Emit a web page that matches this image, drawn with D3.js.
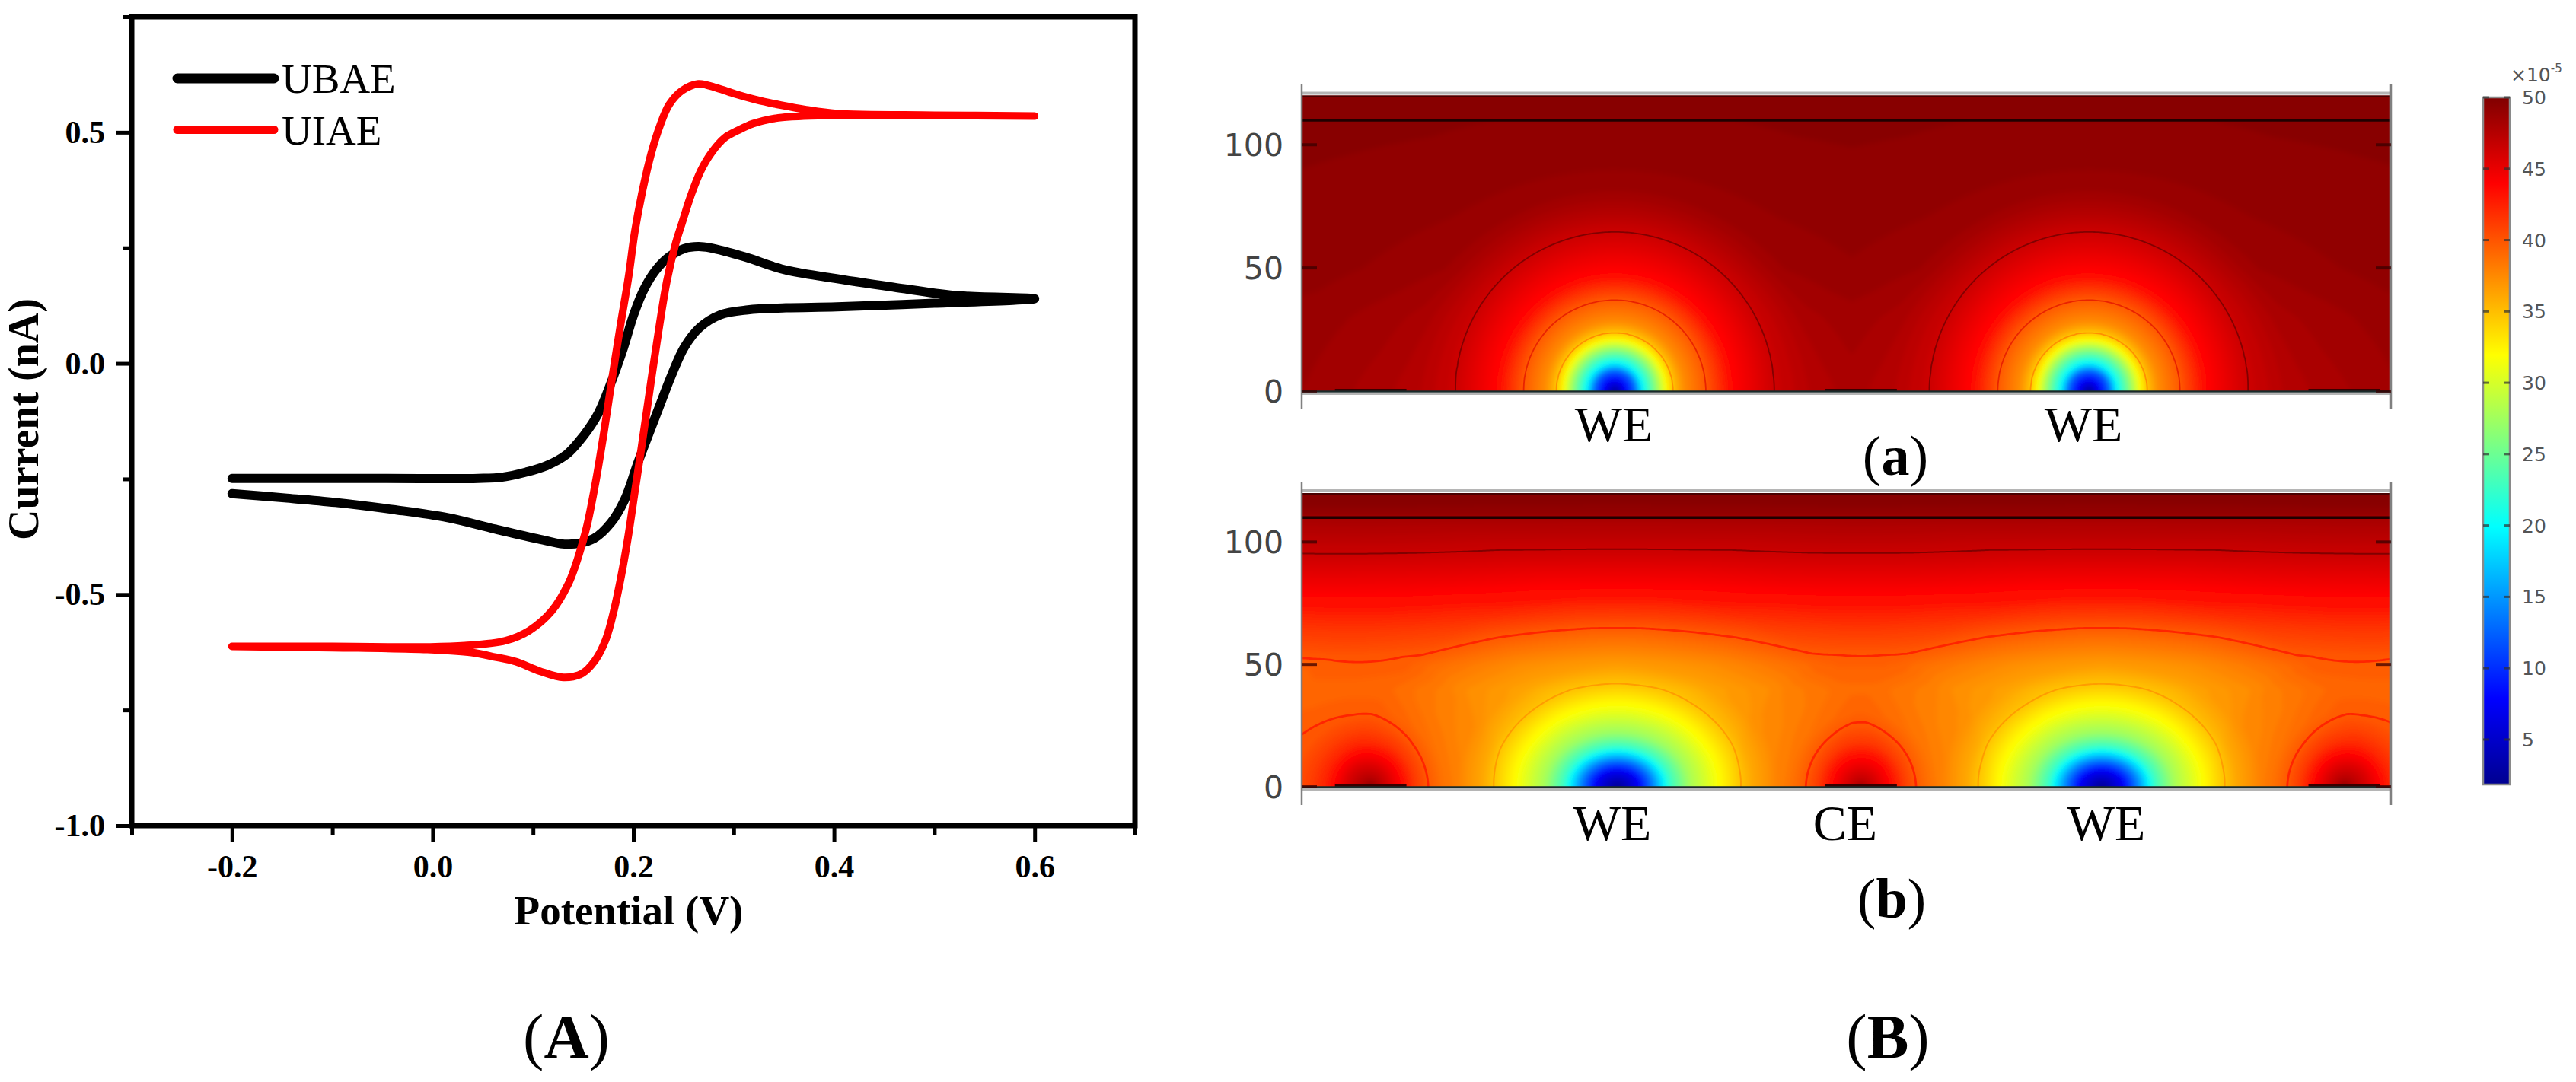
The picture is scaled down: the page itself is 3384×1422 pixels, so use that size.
<!DOCTYPE html>
<html><head><meta charset="utf-8">
<script src="https://cdn.jsdelivr.net/npm/d3@7/dist/d3.min.js"></script>
<style>html,body{margin:0;padding:0;background:#fff}svg{display:block}</style>
</head><body><svg id="c" width="3384" height="1422"></svg>
<script>
// ---------- Panel A data: cyclic voltammograms ----------
const xMajor=[-0.2,0,0.2,0.4,0.6];
const xMinor=[-0.3,-0.1,0.1,0.3,0.5,0.7];
const yMajor=[-1,-0.5,0,0.5];
const yMinor=[-0.75,-0.25,0.25,0.75];
const seriesNames=["UBAE","UIAE"];
const ubaeV=[-0.2,-0.1476,-0.0968,-0.0392,0.015,0.0625,0.1099,0.1353,0.1608,0.1777,0.1912,0.2048,0.2183,0.2256,0.2382,0.2508,0.266,0.2863,0.3141,0.352,0.4027,0.5,0.6,0.52,0.459,0.397,0.35,0.3116,0.2762,0.2648,0.2508,0.2357,0.223,0.2104,0.2002,0.1901,0.1775,0.1648,0.1497,0.1336,0.1133,0.093,0.0692,0.0455,-0.05,-0.2];
const ubaeI=[-0.2818,-0.2911,-0.301,-0.3163,-0.3339,-0.3586,-0.3821,-0.3914,-0.3788,-0.3449,-0.2956,-0.2133,-0.1365,-0.095,-0.025,0.035,0.0773,0.1047,0.1157,0.1201,0.1223,0.13,0.14,0.147,0.165,0.185,0.203,0.23,0.25,0.2527,0.2484,0.2308,0.2034,0.1595,0.1047,0.0334,-0.0433,-0.1091,-0.1584,-0.1968,-0.2215,-0.2352,-0.2462,-0.2489,-0.2489,-0.2489];
const uiaeV=[-0.2,-0.1,-0.0053,0.0387,0.0625,0.0828,0.1065,0.1302,0.1489,0.1624,0.1726,0.181,0.1879,0.1946,0.2014,0.2082,0.2177,0.223,0.2332,0.242,0.2483,0.2572,0.2673,0.2787,0.2913,0.304,0.3192,0.3445,0.3698,0.4027,0.5,0.6,0.5,0.4027,0.3723,0.347,0.3217,0.3015,0.2837,0.2648,0.2483,0.2357,0.2268,0.218,0.2091,0.2015,0.1952,0.1876,0.179,0.1708,0.1624,0.1539,0.1455,0.1353,0.1183,0.0963,0.0726,0.032,-0.0053,-0.1,-0.2];
const uiaeI=[-0.6124,-0.615,-0.6189,-0.6255,-0.6354,-0.6453,-0.6656,-0.6793,-0.671,-0.6409,-0.597,-0.5313,-0.46,-0.3778,-0.2791,-0.1804,-0.0378,0.039,0.176,0.2582,0.3021,0.3624,0.4172,0.4583,0.4885,0.5038,0.5187,0.5313,0.535,0.5367,0.537,0.535,0.537,0.5406,0.5488,0.5587,0.5707,0.5828,0.5954,0.6047,0.5899,0.5598,0.5159,0.4556,0.3734,0.2856,0.187,0.0883,-0.03,-0.1475,-0.2571,-0.3503,-0.4161,-0.4765,-0.5367,-0.578,-0.6,-0.6107,-0.6135,-0.6124,-0.6124];

// ---------- Panel B data: concentration fields ----------
const colorTicks=[50,45,40,35,30,25,20,15,10,5];
const colorMin=1.85, colorMax=50;
const jetPos=[0,0.125,0.375,0.625,0.875,1];
const jetColors=["#000090","#0000ff","#00ffff","#ffff00","#ff0000","#800000"];
const yTicksField=[0,50,100];
const weA=[127,319.4];
const weB=[128,324.6];
const ceCentres=[28,227,423];
const ceHalfWidth=14.5;
// panel (a): value against distance from a working electrode
const aDist=[0,4.1,8.3,11.2,16,20.7,23.6,27.8,37,47.8,64.6,80,96,127,200];
const aConc=[2.2,7.6,13,19.8,25.8,32,35,37.5,40,44,46.6,47.7,48.2,48.8,49.3];
const aPullH=[0,30,50,70,90,110,110.5,120];
const aPull=[0,0.2,0.45,0.55,0.6,0.7,0.9,1];
const aLevels=[35,40,46.6];
// panel (b): value against height, and change against distance from each electrode
const bHeight=[0,20,40,50,54.7,60,63.7,79,96,110,110.5,120];
const bBase=[38.7,38.5,38.2,38.9,39.6,40.4,41,44,46.7,48.4,49.3,50];
const bWeDist=[0,6.3,11,16,22,32,41,49,63.7,80,100,130];
const bWeDelta=[-36.8,-31.6,-24.5,-16.3,-11.2,-6.8,-3.6,-2.1,-1.3,-0.3,-0.1,0];
const bCeDist=[0,2.5,11,18,24,30,40,50,54.7,80,110];
const bCeDelta=[12,10,7,4.2,2.8,1.9,1.4,1.2,0.9,0.3,0];
const bLevels=[35,40,46.7];

// ---------- Drawing ----------
const svg=d3.select("#c");
const serif="'Liberation Serif','Times New Roman',serif";
const sans="'DejaVu Sans',sans-serif";

// Panel A
const x=d3.scaleLinear().domain([-0.3,0.7]).range([173,1491]);
const y=d3.scaleLinear().domain([-1,0.75]).range([1085,22]);
const gA=svg.append("g");
const fmt=d=>d3.format(".1f")(d).replace("−","-");
function styleAxis(g,fs){
  g.selectAll("path").remove();
  g.selectAll("line").attr("stroke","#000").attr("stroke-width",5);
  g.selectAll("text").attr("font-family",serif).attr("font-weight","bold").attr("font-size",fs).attr("fill","#000");
}
gA.append("g").attr("transform","translate(0,1085)")
  .call(d3.axisBottom(x).tickValues(xMinor).tickSize(12).tickFormat("")).call(styleAxis,42);
gA.append("g").attr("transform","translate(0,1085)")
  .call(d3.axisBottom(x).tickValues(xMajor).tickSize(21).tickPadding(17).tickFormat(fmt)).call(styleAxis,42);
gA.append("g").attr("transform","translate(173,0)")
  .call(d3.axisLeft(y).tickValues(yMinor).tickSize(12).tickFormat("")).call(styleAxis,42);
gA.append("g").attr("transform","translate(173,0)")
  .call(d3.axisLeft(y).tickValues(yMajor).tickSize(21).tickPadding(14).tickFormat(fmt)).call(styleAxis,42);
gA.append("rect").attr("x",x(-0.3)).attr("y",y(0.75)).attr("width",x(0.7)-x(-0.3)).attr("height",y(-1)-y(0.75))
  .attr("fill","none").attr("stroke","#000").attr("stroke-width",7);
const line=d3.line().x(d=>x(d[0])).y(d=>y(d[1])).curve(d3.curveCatmullRom.alpha(0.5));
const styles=[{c:"#000",w:12},{c:"#ff0000",w:10}];
[[ubaeV,ubaeI],[uiaeV,uiaeI]].forEach((s,i)=>{
  gA.append("path").attr("d",line(d3.zip(s[0],s[1]))).attr("fill","none")
    .attr("stroke",styles[i].c).attr("stroke-width",styles[i].w)
    .attr("stroke-linecap","round").attr("stroke-linejoin","round");
});
seriesNames.forEach((n,i)=>{
  const ly=[103,170.5][i];
  gA.append("line").attr("x1",233).attr("x2",360).attr("y1",ly).attr("y2",ly)
    .attr("stroke",styles[i].c).attr("stroke-width",styles[i].w+1).attr("stroke-linecap","round");
  gA.append("text").attr("x",370).attr("y",[122,190][i]).attr("font-family",serif).attr("font-size",55).text(n);
});
gA.append("text").attr("x",826).attr("y",1215).attr("text-anchor","middle").attr("font-family",serif)
  .attr("font-weight","bold").attr("font-size",55).text("Potential (V)");
gA.append("text").attr("transform","translate(50,551) rotate(-90)").attr("text-anchor","middle").attr("font-family",serif)
  .attr("font-weight","bold").attr("font-size",56).text("Current (nA)");

function caption(cx,cy,label,size){
  const t=svg.append("text").attr("x",cx).attr("y",cy).attr("text-anchor","middle").attr("font-family",serif).attr("font-size",size);
  t.append("tspan").text("(");
  t.append("tspan").attr("font-weight","bold").text(label);
  t.append("tspan").text(")");
}
caption(744,1390,"A",82);
caption(2480,1390,"B",82);

// Colour scale
const cPos=p=>colorMin+p*(colorMax-colorMin);
const color=d3.scaleLinear().domain(jetPos.map(cPos)).range(jetColors).clamp(true);

// Fields
const aProfile=d3.scaleLinear().domain(aDist).range(aConc).clamp(true);
const aPullAt=d3.scaleLinear().domain(aPullH).range(aPull).clamp(true);
const aWeight=d3.scaleLinear().domain([64.6,85]).range([0,1]).clamp(true);
const fieldA=(px,u)=>{
  u=Math.abs(u);
  const r=d3.min(weA,w=>Math.hypot(px-w,u));
  const c=aProfile(r);
  return c+(50-c)*aPullAt(u)*aWeight(r);
};
const bB=d3.scaleLinear().domain(bHeight).range(bBase).clamp(true);
const bW=d3.scaleLinear().domain(bWeDist).range(bWeDelta).clamp(true);
const bC=d3.scaleLinear().domain(bCeDist).range(bCeDelta).clamp(true);
const fieldB=(px,u)=>{
  u=Math.abs(u);
  let c=bB(u);
  weB.forEach(w=>{c+=bW(Math.hypot((px-w)/1.34,u));});
  ceCentres.forEach(w=>{c+=bC(Math.hypot(px-w,u));});
  return Math.min(c,50.5);
};

svg.append("defs").append("filter").attr("id","soft").attr("filterUnits","userSpaceOnUse")
  .attr("x",1600).attr("y",60).attr("width",1700).attr("height",1050)
  .append("feGaussianBlur").attr("stdDeviation",3);

function panel(id,cfg){
  const X=d3.scaleLinear().domain([0,442]).range([1710,3141]);
  const Y=d3.scaleLinear().domain([0,120]).range([cfg.y0,cfg.yTop]);
  const g=svg.append("g");
  const clip="clip"+id;
  svg.append("defs").append("clipPath").attr("id",clip).append("rect")
    .attr("x",X(0)).attr("y",Y(120)).attr("width",X(442)-X(0)).attr("height",Y(0)-Y(120));
  const body=g.append("g").attr("clip-path",`url(#${clip})`);
  const soft=body.append("g").attr("filter","url(#soft)");
  const step=0.8, xs=-8, us=-6;
  const n=Math.ceil(458/step), m=Math.ceil(134/step);
  const vals=new Float64Array(n*m);
  for(let j=0;j<m;j++)for(let i=0;i<n;i++)vals[i+j*n]=cfg.field(xs+i*step,us+j*step);
  const gx=v=>X(xs+(v-0.5)*step), gy=v=>Y(us+(v-0.5)*step);
  const path=d3.geoPath(d3.geoTransform({point(a,b){this.stream.point(gx(a),gy(b));}}));
  soft.append("rect").attr("x",X(-8)).attr("y",Y(128)).attr("width",X(450)-X(-8)).attr("height",Y(-6)-Y(128)).attr("fill",color(colorMin));
  const contours=d3.contours().size([n,m]).smooth(true);
  d3.range(2,50.01,0.4).forEach(t=>{
    soft.append("path").attr("d",path(contours.contour(vals,t))).attr("fill",color(t));
  });
  cfg.levels.forEach(l=>{
    let src=vals;
    if(l>45&&id==="b"){ // the top level is only drawn as the upper isoline
      src=vals.slice();
      for(let j=0;j<m;j++)if(us+j*step<60)for(let i=0;i<n;i++)src[i+j*n]=0;
    }
    body.append("path").attr("d",path(contours.contour(src,l))).attr("fill","none")
      .attr("stroke",cfg.levelColor(l)).attr("stroke-width",cfg.levelWidth(l)).attr("opacity",0.95);
  });
  // interface line at height 110
  body.append("line").attr("x1",X(0)).attr("x2",X(442)).attr("y1",Y(110)).attr("y2",Y(110)).attr("stroke","#200000").attr("stroke-width",3.5);
  body.append("line").attr("x1",X(0)).attr("x2",X(442)).attr("y1",Y(120)+1).attr("y2",Y(120)+1).attr("stroke","#4a0000").attr("stroke-width",3);
  // inactive electrode strips
  ceCentres.forEach(c=>{
    body.append("line").attr("x1",X(c-ceHalfWidth)).attr("x2",X(c+ceHalfWidth)).attr("y1",Y(0)-1.5).attr("y2",Y(0)-1.5).attr("stroke","#3a0000").attr("stroke-width",3);
  });
  // frame
  g.append("line").attr("x1",X(0)).attr("x2",X(442)).attr("y1",Y(120)-3).attr("y2",Y(120)-3).attr("stroke","#b5b5b5").attr("stroke-width",4);
  g.append("line").attr("x1",X(0)).attr("x2",X(442)).attr("y1",Y(0)+0.5).attr("y2",Y(0)+0.5).attr("stroke","#1a2a2a").attr("stroke-width",2.5);
  g.append("line").attr("x1",X(0)).attr("x2",X(442)).attr("y1",Y(0)+3.5).attr("y2",Y(0)+3.5).attr("stroke","#b5b5b5").attr("stroke-width",3);
  [0,442].forEach(v=>{
    g.append("line").attr("x1",X(v)).attr("x2",X(v)).attr("y1",Y(120)-15).attr("y2",Y(0)+24).attr("stroke","#808080").attr("stroke-width",2.5);
  });
  yTicksField.forEach(t=>{
    [[X(0),X(0)+20],[X(442),X(442)-20]].forEach(p=>{
      g.append("line").attr("x1",p[0]).attr("x2",p[1]).attr("y1",Y(t)).attr("y2",Y(t)).attr("stroke","#3a0000").attr("stroke-opacity",0.75).attr("stroke-width",4);
    });
    g.append("text").attr("x",1686).attr("y",Y(t)).attr("dy","0.36em").attr("text-anchor","end")
      .attr("font-family",sans).attr("font-size",41).attr("fill","#444").text(t);
  });
}
panel("a",{field:fieldA,y0:514,yTop:125.5,levels:aLevels,levelWidth:()=>1.8,
  levelColor:l=>({35:"#ff8c00",40:"#e82000",46.6:"#7c0000"})[l]});
panel("b",{field:fieldB,y0:1034,yTop:648,levels:bLevels,levelWidth:l=>l===40?2.8:2,
  levelColor:l=>({35:"#ff9a00",40:"#ff2200",46.7:"#7c0000"})[l]});

[[2120,558,"WE"],[2737,558,"WE"],[2118,1082,"WE"],[2424,1082,"CE"],[2767,1082,"WE"]].forEach(d=>{
  svg.append("text").attr("x",d[0]).attr("y",d[1]+22).attr("text-anchor","middle").attr("font-family",serif).attr("font-size",66).attr("fill","#000").text(d[2]);
});
caption(2490,624,"a",74);
caption(2485,1206,"b",74);

// Colour bar
const cb=d3.scaleLinear().domain([colorMin,colorMax]).range([1031,128]);
const defs=svg.append("defs");
const grad=defs.append("linearGradient").attr("id","jet").attr("x1",0).attr("x2",0).attr("y1",1).attr("y2",0);
jetPos.forEach((p,i)=>grad.append("stop").attr("offset",p).attr("stop-color",jetColors[i]));
svg.append("rect").attr("x",3262).attr("y",cb(colorMax)).attr("width",35).attr("height",cb(colorMin)-cb(colorMax)).attr("fill","url(#jet)");
svg.append("rect").attr("x",3262).attr("y",cb(colorMax)).attr("width",35).attr("height",cb(colorMin)-cb(colorMax)).attr("fill","none").attr("stroke","#8a8a8a").attr("stroke-width",2.5);
colorTicks.forEach(t=>{
  [[3262,3270],[3289,3297]].forEach(p=>{
    svg.append("line").attr("x1",p[0]).attr("x2",p[1]).attr("y1",cb(t)).attr("y2",cb(t)).attr("stroke","#303030").attr("stroke-opacity",0.7).attr("stroke-width",3);
  });
  svg.append("text").attr("x",3313).attr("y",cb(t)).attr("dy","0.36em").attr("font-family",sans).attr("font-size",25).attr("fill","#555").text(t);
});
const exp=svg.append("text").attr("x",3298).attr("y",107).attr("font-family",sans).attr("font-size",25).attr("fill","#555");
exp.append("tspan").text("×10");
exp.append("tspan").attr("dy",-12).attr("font-size",15).text("-5");
</script></body></html>
